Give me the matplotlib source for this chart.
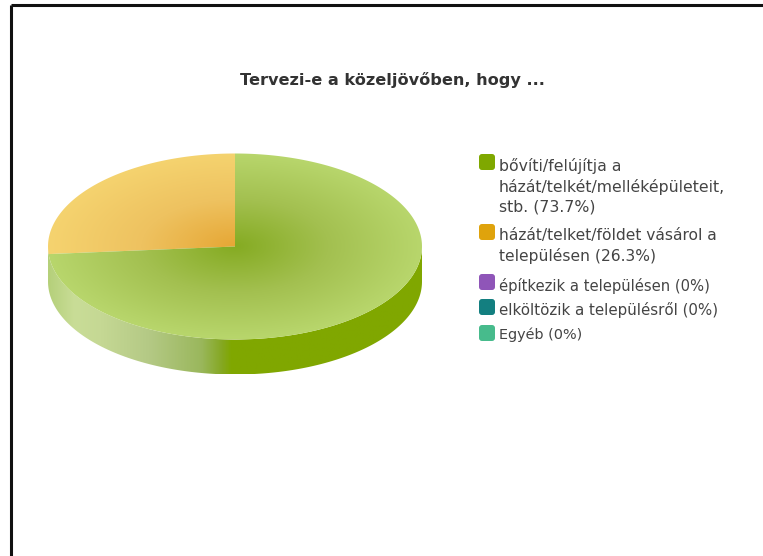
import numpy as np
import matplotlib
matplotlib.use('Agg')
import matplotlib.pyplot as plt
from matplotlib.patches import FancyBboxPatch, Polygon
from matplotlib.colors import LinearSegmentedColormap

title = 'Tervezi-e a közeljövőben, hogy ...'
labels = ['bővíti/felújítja a\nházát/telkét/melléképületeit,\nstb. (73.7%)',
          'házát/telket/földet vásárol a\ntelepülésen (26.3%)',
          'építkezik a településen (0%)',
          'elköltözik a településről (0%)',
          'Egyéb (0%)']
shares = [73.7, 26.3, 0, 0, 0]
colors = ['#7fa800', '#dfa30c', '#8f55b8', '#137f80', '#47bb8c']

# Geometry of the pie in pixels
cx, cy = 235, 246.5
rx, ry = 187, 93
depth = 35

fig = plt.figure(figsize=(7.63, 5.56), dpi=100)
ax = fig.add_axes([0, 0, 1, 1])
ax.set_xlim(0, 763)
ax.set_ylim(556, 0)
ax.axis('off')

# Frame of the screenshot
ax.plot([11, 11], [556, 5], color='#111111', lw=2.2, solid_capstyle='butt')
ax.plot([11, 763], [5, 5], color='#111111', lw=2.2, solid_capstyle='butt')

ax.text(392, 80.5, title, ha='center', va='center', fontsize=11.6,
        fontweight='bold', color='#333333', family='DejaVu Sans')


def ellipse_pts(a0, a1, ox=0, oy=0, n=200):
    # angles in degrees, counted from 12 o'clock counter-clockwise
    t = np.radians(np.linspace(a0, a1, n))
    return np.column_stack([cx + ox - rx * np.sin(t), cy + oy - ry * np.cos(t)])


# Side of the pie with horizontal gradient
side_cmap = LinearSegmentedColormap.from_list(
    'side', [(0, '#b5d07a'), (0.07, '#c9dd97'), (0.14, '#c5d894'), (0.27, '#b4c985'),
             (0.41, '#9ab75c'), (0.465, '#85a822'), (0.49, '#80a700'), (1, '#80a700')])
front = ellipse_pts(90, 270)
edge = ellipse_pts(270, 90, oy=depth)
side_poly = Polygon(np.vstack([front, edge]), closed=True, fc='none', ec='none')
ax.add_patch(side_poly)
im = ax.imshow(np.linspace(0, 1, 256).reshape(1, -1), cmap=side_cmap, aspect='auto',
               extent=(cx - rx, cx + rx, cy + ry + depth, cy), zorder=1)
im.set_clip_path(side_poly)

# Top of the pie, one radial gradient per slice
yy, xx = np.mgrid[cy - ry:cy + ry:300j, cx - rx:cx + rx:600j]
dist = np.clip(np.hypot((xx - cx) / rx, (yy - cy) / ry), 0, 1)
top_maps = [
    LinearSegmentedColormap.from_list('g', ['#85ab22', '#a3c050', '#b8d66c']),
    LinearSegmentedColormap.from_list('o', ['#e6a735', '#eec260', '#f5d36f']),
]
start = 0
for share, cmap in zip(shares[:2][::-1], top_maps[::-1]):
    stop = start + share * 3.6
    pts = np.vstack([[[cx, cy]], ellipse_pts(start, stop)])
    wedge = Polygon(pts, closed=True, fc='none', ec='none')
    ax.add_patch(wedge)
    im = ax.imshow(dist, cmap=cmap, vmin=0, vmax=1, aspect='auto', origin='upper',
                   extent=(cx - rx, cx + rx, cy + ry, cy - ry), zorder=2)
    im.set_clip_path(wedge)
    start = stop
ax.set_xlim(0, 763)
ax.set_ylim(556, 0)

# Legend
box_y = [154, 224, 274, 299, 325]
text_y = [186.5, 246, 286, 310, 335]
font_sizes = [11.3, 11.2, 10.6, 10.8, 10.4]
for label, color, by, ty, fs in zip(labels, colors, box_y, text_y, font_sizes):
    ax.add_patch(FancyBboxPatch((481, by + 2), 12, 12, boxstyle='round,pad=2,rounding_size=3',
                                fc=color, ec='none', zorder=3))
    ax.text(499, ty, label, ha='left', va='center', fontsize=fs, color='#444444',
            family='DejaVu Sans', linespacing=1.4)

fig.savefig('out.png', dpi=100)
